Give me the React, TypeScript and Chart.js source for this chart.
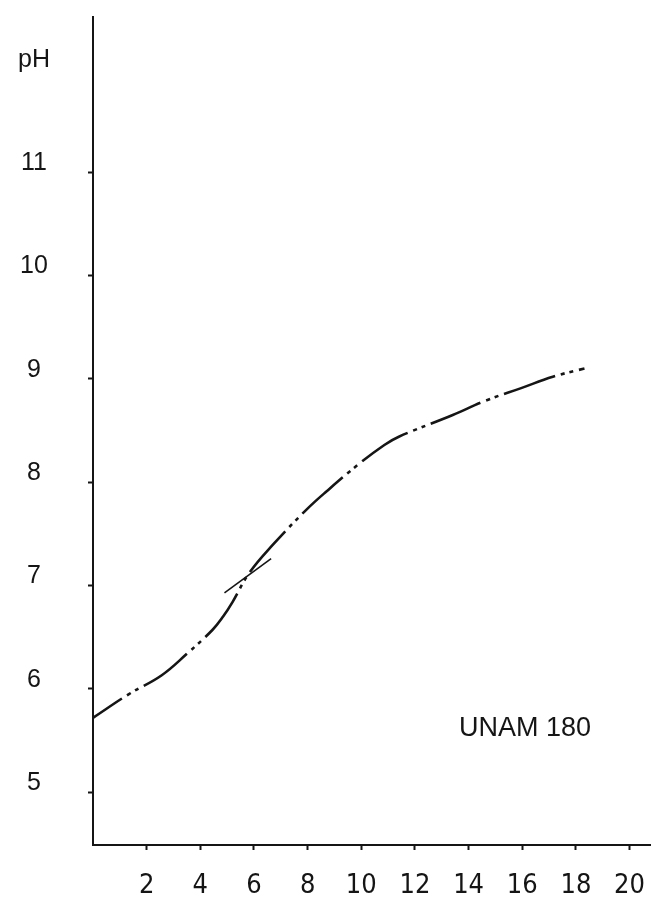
import React, { useEffect, useRef } from "react";
import { Chart, registerables } from "chart.js";

Chart.register(...registerables);

// Titration curve (added volume vs pH)
const volume = [0, 1.34, 2.55, 3.5, 4.45, 4.85, 5.2, 5.82, 6.69, 7.94, 8.7, 9.93, 10.86, 11.4, 13.41, 14.65, 15.96, 17.14, 18.32];
const pH = [5.72, 5.95, 6.13, 6.34, 6.57, 6.7, 6.84, 7.12, 7.39, 7.73, 7.91, 8.18, 8.36, 8.44, 8.65, 8.79, 8.91, 9.02, 9.1];

// Tangent segment drawn across the inflection
const tangentVolume = [4.9, 6.64];
const tangentPH = [6.93, 7.26];

// Axis ticks
const xTickValues = [2, 4, 6, 8, 10, 12, 14, 16, 18, 20];
const yTickValues = [5, 6, 7, 8, 9, 10, 11, 12];
const yTickLabels = ["5", "6", "7", "8", "9", "10", "11", "pH"];

// Sample annotation
const sampleLabel = "UNAM 180";
const sampleLabelVolume = 16.1;
const sampleLabelPH = 5.62;

const INK = "#151515";

export default function App() {
  const canvasRef = useRef<HTMLCanvasElement | null>(null);

  useEffect(() => {
    const canvas = canvasRef.current;
    if (!canvas) return;

    const labelPlugin = {
      id: "sampleLabel",
      afterDraw(chart: any) {
        const { ctx, scales } = chart;
        const x = scales.x.getPixelForValue(sampleLabelVolume);
        const y = scales.y.getPixelForValue(sampleLabelPH);
        ctx.save();
        ctx.fillStyle = INK;
        ctx.font = "27px 'Liberation Sans', 'DejaVu Sans', sans-serif";
        ctx.textAlign = "center";
        ctx.textBaseline = "middle";
        ctx.fillText(sampleLabel, x, y);
        ctx.restore();
      },
    };

    const chart = new Chart(canvas, {
      type: "scatter",
      data: {
        datasets: [
          {
            data: volume.map((v, i) => ({ x: v, y: pH[i] })),
            showLine: true,
            borderColor: INK,
            borderWidth: 2.6,
            borderDash: [54, 6, 4, 5, 4, 6],
            borderDashOffset: 19,
            borderCapStyle: "butt",
            pointRadius: 0,
            tension: 0.4,
            fill: false,
          },
          {
            data: tangentVolume.map((v, i) => ({ x: v, y: tangentPH[i] })),
            showLine: true,
            borderColor: INK,
            borderWidth: 1.6,
            pointRadius: 0,
            fill: false,
          },
        ],
      },
      options: {
        responsive: false,
        animation: false,
        events: [],
        layout: { padding: { top: 17, right: 0, bottom: 0, left: 0 } },
        plugins: {
          legend: { display: false },
          tooltip: { enabled: false },
          title: { display: false },
        },
        scales: {
          x: {
            type: "linear",
            min: 0,
            max: 20.8,
            afterBuildTicks: (scale: any) => {
              scale.ticks = xTickValues.map((v) => ({ value: v }));
            },
            afterFit: (scale: any) => {
              scale.height = 69;
              scale.paddingLeft = 0;
              scale.paddingRight = 0;
            },
            border: { display: true, color: INK, width: 2 },
            grid: {
              display: true,
              drawOnChartArea: false,
              drawTicks: true,
              tickLength: 5,
              tickColor: INK,
              tickWidth: 2,
            },
            ticks: {
              color: INK,
              padding: 20,
              maxRotation: 0,
              autoSkip: false,
              font: { family: "'Liberation Sans Narrow', 'DejaVu Sans Condensed', 'Liberation Sans', sans-serif", size: 27 },
              callback: (v: any) => String(v),
            },
          },
          y: {
            type: "linear",
            min: 4.49,
            max: 12.5,
            afterBuildTicks: (scale: any) => {
              scale.ticks = yTickValues.map((v) => ({ value: v }));
            },
            afterFit: (scale: any) => {
              scale.width = 93;
              scale.paddingTop = 0;
              scale.paddingBottom = 0;
            },
            border: { display: true, color: INK, width: 2 },
            grid: {
              display: true,
              drawOnChartArea: false,
              drawTicks: true,
              tickLength: 5,
              tickWidth: 2,
              tickColor: (ctx: any) =>
                ctx.tick && ctx.tick.value === 12 ? "rgba(0,0,0,0)" : INK,
            },
            ticks: {
              color: INK,
              padding: 38,
              crossAlign: "center",
              labelOffset: -9,
              autoSkip: false,
              font: { family: "'Liberation Sans', 'DejaVu Sans', sans-serif", size: 25 },
              callback: (v: any) => {
                const idx = yTickValues.indexOf(Number(v));
                return idx >= 0 ? yTickLabels[idx] : "";
              },
            },
          },
        },
      },
      plugins: [labelPlugin],
    });

    return () => {
      chart.destroy();
    };
  }, []);

  return (
    <div
      style={{
        position: "absolute",
        left: 0,
        top: 0,
        width: 651,
        height: 914,
        background: "#ffffff",
      }}
    >
      <canvas ref={canvasRef} width={651} height={914} style={{ width: 651, height: 914, display: "block" }} />
    </div>
  );
}
